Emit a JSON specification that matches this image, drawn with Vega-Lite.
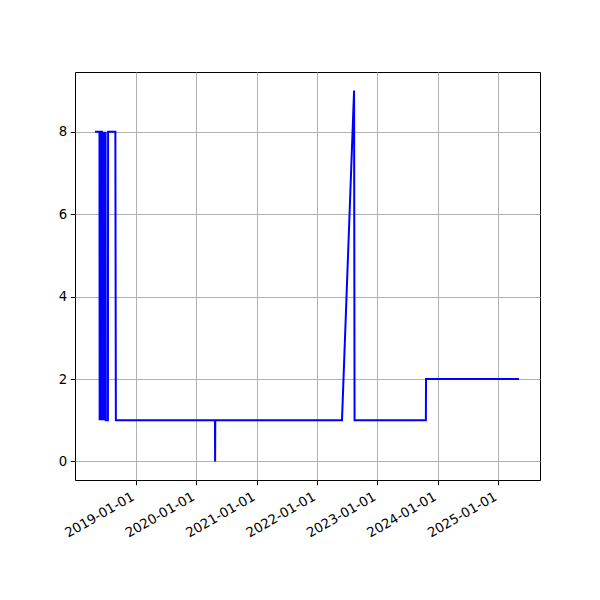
{
  "$schema": "https://vega.github.io/schema/vega-lite/v6.json",
  "width": 465,
  "height": 408,
  "autosize": {"type": "none"},
  "padding": {"left": 75, "top": 72, "right": 60, "bottom": 120},
  "background": "white",
  "config": {
    "view": {"stroke": "black", "strokeWidth": 1},
    "font": "DejaVu Sans",
    "axis": {
      "grid": true,
      "gridColor": "#b0b0b0",
      "gridWidth": 1,
      "domain": false,
      "tickColor": "black",
      "tickSize": 4.7,
      "tickWidth": 1,
      "labelFont": "DejaVu Sans",
      "labelFontSize": 13.3,
      "labelColor": "black",
      "labelPadding": 3.5,
      "title": null
    }
  },
  "data": {
    "values": [
      {"d": "2018-04-30", "v": 8},
      {"d": "2018-05-27", "v": 8},
      {"d": "2018-05-28", "v": 1},
      {"d": "2018-05-29", "v": 8},
      {"d": "2018-05-30", "v": 1},
      {"d": "2018-05-31", "v": 8},
      {"d": "2018-06-01", "v": 1},
      {"d": "2018-06-02", "v": 8},
      {"d": "2018-06-03", "v": 1},
      {"d": "2018-06-04", "v": 8},
      {"d": "2018-06-05", "v": 1},
      {"d": "2018-06-06", "v": 8},
      {"d": "2018-06-07", "v": 1},
      {"d": "2018-06-08", "v": 8},
      {"d": "2018-06-11", "v": 8},
      {"d": "2018-06-12", "v": 1},
      {"d": "2018-06-13", "v": 8},
      {"d": "2018-06-14", "v": 1},
      {"d": "2018-06-15", "v": 8},
      {"d": "2018-06-16", "v": 1},
      {"d": "2018-06-17", "v": 8},
      {"d": "2018-06-18", "v": 1},
      {"d": "2018-06-19", "v": 8},
      {"d": "2018-06-20", "v": 1},
      {"d": "2018-06-21", "v": 8},
      {"d": "2018-06-22", "v": 1},
      {"d": "2018-06-23", "v": 8},
      {"d": "2018-06-24", "v": 1},
      {"d": "2018-06-25", "v": 8},
      {"d": "2018-06-26", "v": 1},
      {"d": "2018-06-27", "v": 8},
      {"d": "2018-06-28", "v": 1},
      {"d": "2018-06-29", "v": 8},
      {"d": "2018-06-30", "v": 1},
      {"d": "2018-07-01", "v": 8},
      {"d": "2018-07-02", "v": 1},
      {"d": "2018-07-03", "v": 8},
      {"d": "2018-07-04", "v": 1},
      {"d": "2018-07-17", "v": 1},
      {"d": "2018-07-18", "v": 8},
      {"d": "2018-08-31", "v": 8},
      {"d": "2018-09-03", "v": 1},
      {"d": "2020-04-24", "v": 1},
      {"d": "2020-04-25", "v": 0},
      {"d": "2020-04-26", "v": 1},
      {"d": "2022-06-01", "v": 1},
      {"d": "2022-08-13", "v": 9},
      {"d": "2022-08-16", "v": 1},
      {"d": "2023-10-21", "v": 1},
      {"d": "2023-10-22", "v": 2},
      {"d": "2025-05-06", "v": 2}
    ]
  },
  "mark": {"type": "line", "color": "#0000ff", "strokeWidth": 2, "clip": true},
  "encoding": {
    "x": {
      "field": "d",
      "type": "temporal",
      "scale": {
        "type": "utc",
        "domain": [
          {"year": 2017, "month": 12, "date": 30, "utc": true},
          {"year": 2025, "month": 9, "date": 10, "utc": true}
        ],
        "nice": false
      },
      "axis": {
        "values": [
          {"year": 2019, "month": 1, "date": 1, "utc": true},
          {"year": 2020, "month": 1, "date": 1, "utc": true},
          {"year": 2021, "month": 1, "date": 1, "utc": true},
          {"year": 2022, "month": 1, "date": 1, "utc": true},
          {"year": 2023, "month": 1, "date": 1, "utc": true},
          {"year": 2024, "month": 1, "date": 1, "utc": true},
          {"year": 2025, "month": 1, "date": 1, "utc": true}
        ],
        "format": "%Y-%m-%d",
        "labelAngle": -30,
        "labelAlign": "right",
        "labelBaseline": "top",
        "labelPadding": 4.5,
        "labelOffset": -6.5,
        "labelFlush": false,
        "labelOverlap": false
      }
    },
    "y": {
      "field": "v",
      "type": "quantitative",
      "scale": {"domain": [-0.45, 9.45], "nice": false, "zero": false},
      "axis": {"values": [0, 2, 4, 6, 8], "format": "d"}
    }
  }
}
